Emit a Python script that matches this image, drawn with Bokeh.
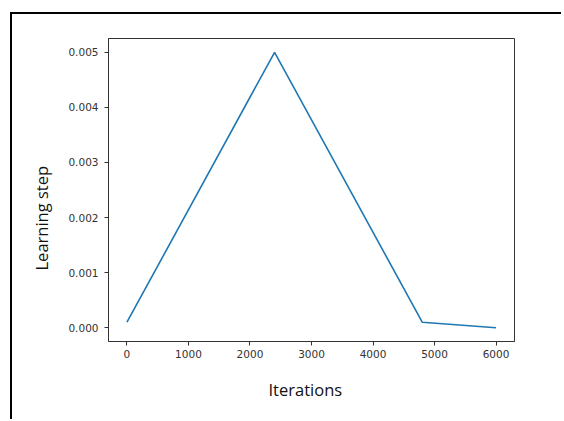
from bokeh.plotting import figure
from bokeh.models import Range1d, FixedTicker, Title
from bokeh.embed import file_html
from bokeh.resources import INLINE

iterations = [0, 2400, 4800, 6000]
learning_step = [0.0001, 0.005, 0.0001, 0.0]
x_ticks = [0, 1000, 2000, 3000, 4000, 5000, 6000]
y_ticks = [0.000, 0.001, 0.002, 0.003, 0.004, 0.005]

p = figure(width=551, height=407, output_backend="svg", toolbar_location=None,
           x_range=Range1d(-300, 6300), y_range=Range1d(-0.00025, 0.00525),
           min_border_left=96, min_border_right=49, min_border_top=24, min_border_bottom=80)
p.styles = {"position": "absolute", "left": "10px", "top": "12px", "margin": "0px",
            "border-top": "2px solid black", "border-left": "2px solid black"}

p.line(iterations, learning_step, line_color="#1f77b4", line_width=1.6)

p.xgrid.visible = False
p.ygrid.visible = False
p.outline_line_color = "#333333"
p.outline_line_width = 1
p.background_fill_color = "white"
p.border_fill_color = "white"

for ax in (p.xaxis[0], p.yaxis[0]):
    ax.axis_line_color = "#333333"
    ax.major_tick_line_color = "#333333"
    ax.major_tick_out = 4
    ax.major_tick_in = 0
    ax.minor_tick_line_color = None
    ax.major_label_text_font = "DejaVu Sans"
    ax.major_label_text_font_size = "10.5px"
    ax.major_label_text_color = "#333333"

p.xaxis[0].ticker = FixedTicker(ticks=x_ticks)
p.yaxis[0].ticker = FixedTicker(ticks=y_ticks)
p.yaxis[0].major_label_overrides = {t: f"{t:.3f}" for t in y_ticks}
p.xaxis[0].major_label_standoff = 4
p.yaxis[0].major_label_standoff = 6

xlabel = Title(text="Iterations", align="left", offset=160, standoff=33, vertical_align="middle",
               text_font="Open Sans", text_font_size="16.5px", text_font_style="normal",
               text_color="#111111")
ylabel = Title(text="Learning step", align="left", offset=71, standoff=24, vertical_align="middle",
               text_font="Open Sans", text_font_size="16.5px", text_font_style="normal",
               text_color="#111111")
p.add_layout(xlabel, "below")
p.add_layout(ylabel, "left")

open("out.html", "w").write(file_html(p, INLINE))
